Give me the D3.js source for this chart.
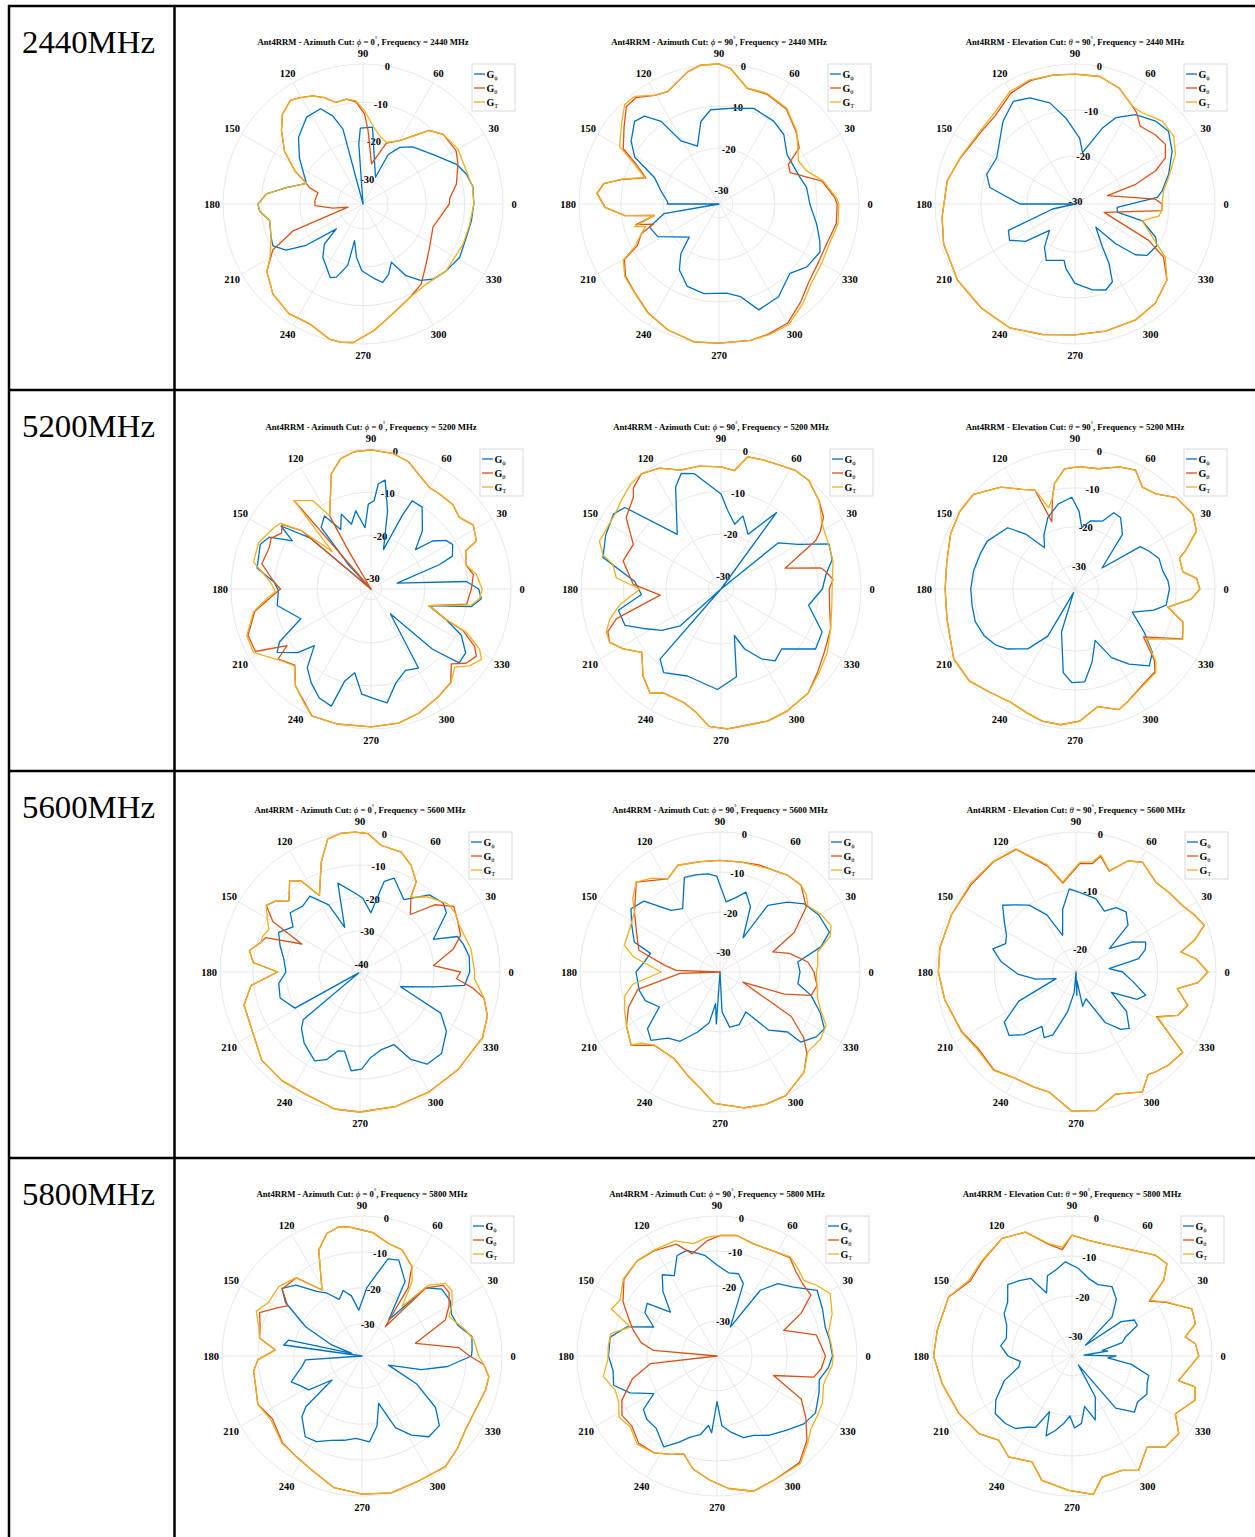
<!DOCTYPE html>
<html>
<head>
<meta charset="utf-8">
<script src="https://cdn.jsdelivr.net/npm/d3@7"></script>
<style>
  body { margin: 0; background: #fff; }
  svg text { font-family: "Liberation Serif", "Times New Roman", serif; }
</style>
</head>
<body>
<svg id="chart" width="1255" height="1537"></svg>
<script>
// ---------------------------------------------------------------------------
// Measured gain patterns of antenna Ant4RRM, values in dBi as [angle deg, gain]
// ---------------------------------------------------------------------------
const frequencies = ["2440MHz", "5200MHz", "5600MHz", "5800MHz"];
const freqMHz = ["2440", "5200", "5600", "5800"];
const angleTicks = [0, 30, 60, 90, 120, 150, 180, 210, 240, 270, 300, 330];
const radialTicks = [0, -10, -20, -30, -40];
const seriesNames = ["G", "G", "G"];
const seriesSubs = ["\u03D5", "\u03B8", "T"];

// 2440 MHz, azimuth cut phi = 0
const gPhi_2440_az0 = [[0,-7.6],[9,-7.5],[16,-8.4],[23,-10],[35,-14.1],[49,-16.8],[57,-18.9],[63,-22],[65,-28.8],[83,-16.3],[92,-16.7],[94,-20.9],[98,-36.5],[105,-16.3],[109,-12.2],[114,-9.3],[123,-9.5],[134,-12.3],[144,-16],[160,-20.8],[168,-16.1],[174,-11.2],[180,-9.1],[184,-9.5],[190,-11.8],[200,-11],[205,-10.6],[211,-13.1],[216,-18.2],[223,-27],[226,-22],[233,-19.1],[246,-15.5],[250,-16.2],[256,-20],[257,-26.7],[263,-22.5],[269,-19.1],[278,-17],[284,-15.4],[290,-17],[296,-19.6],[301,-14.7],[307,-11.6],[313,-9.7],[321,-8.7],[331,-7.7],[342,-8.2],[351,-7.9]];
const gTheta_2440_az0 = [[0,-14],[4,-13.8],[12,-11.6],[23,-9.6],[30,-8.5],[41,-8.8],[48,-10.7],[60,-17.4],[69,-19.5],[78,-25.8],[86,-17.4],[89,-13],[94,-9.8],[99,-8.8],[105,-9.1],[110,-7],[115,-5.4],[121,-4.2],[125,-3.5],[132,-5.1],[138,-7.9],[146,-11.8],[154,-16.7],[160,-20.8],[163,-21.9],[166,-24.4],[176,-23.9],[182,-24],[188,-28.6],[192,-32.5],[201,-17],[207,-10.1],[215,-5.9],[225,-3.3],[236,-2],[246,-2.3],[256,-0.2],[261,0],[266,-0.3],[275,-3.4],[285,-6.8],[297,-9.3],[306,-10.7],[316,-13.7],[327,-15.8],[342,-17.3],[350,-16.2]];
const gT_2440_az0 = [[0,-7.6],[9,-7.6],[18,-8.2],[30,-7.9],[41,-8.8],[48,-10.7],[60,-17.4],[69,-19.3],[75,-18.5],[82,-16.3],[89,-12.2],[94,-9.5],[99,-8.8],[105,-9.1],[110,-7],[115,-5.4],[121,-4.2],[125,-3.5],[132,-5.1],[138,-7.9],[146,-11.8],[154,-16.7],[160,-20.8],[168,-16.1],[174,-11.2],[180,-9.1],[184,-9.5],[190,-11.8],[200,-11],[210,-8.5],[215,-5.9],[225,-3.3],[236,-2],[246,-2.3],[256,-0.2],[261,0],[266,-0.3],[275,-3.4],[285,-6.8],[297,-9.3],[308,-9.9],[321,-8.7],[338,-8.4],[349,-8.2]];

// 2440 MHz, azimuth cut phi = 90
const gPhi_2440_az90 = [[0,-11.7],[10.7,-12.1],[18,-13],[36,-13.3],[47,-10.7],[56.6,-9.7],[70,-9.1],[81,-10.2],[95,-10.8],[102.4,-13.2],[110.4,-18.6],[121,-15.8],[125,-9.3],[130.3,-5.9],[135.6,-5.2],[144.4,-7.6],[151,-10.4],[157.7,-16.7],[167,-19.1],[178,-21.1],[180,-21],[182,-33.3],[190,-20],[198.4,-15.9],[208,-16.8],[228,-22.7],[232.5,-18.4],[239,-15],[249,-12.3],[260.5,-11.7],[275,-12],[283,-10.7],[290.6,-6.4],[302.7,-7.1],[315.7,-9.7],[324.4,-7.6],[334.6,-6.7],[340,-7.8],[348.5,-9.6]];
const gTheta_2440_az90 = [[0,-5.2],[3,-5.7],[12.5,-8.2],[23.8,-14.8],[29.7,-14.3],[35,-10],[43,-8.2],[54.7,-5.6],[66.6,-4.8],[76.3,-5],[85,-1],[90,0],[97.5,0],[103.4,-1],[114.5,-3.9],[120.6,-3.3],[128,-1.2],[133.5,-1.3],[140.9,-4.2],[150,-7],[154.8,-11.8],[160.4,-14.8],[165.7,-9.6],[170,-5.5],[175,-4.2],[181.7,-6.2],[187,-10.8],[190,-17.7],[194,-13],[197,-17],[201,-13.5],[207,-11.5],[210.4,-7.2],[217.7,-5.2],[226.6,-4.2],[237,-2.4],[247.8,-1],[259.8,0],[270,-0.2],[283,0],[291,-0.2],[300,-0.6],[310,-3],[319,-5],[330,-5.9],[340,-6],[350.5,-5]];
const gT_2440_az90 = [[0,-4.8],[3,-5.3],[12.5,-7.9],[20.7,-11],[28.4,-11.8],[43,-8],[54.7,-5.4],[66.6,-4.6],[76.3,-4.9],[85,-1],[90,0],[97.5,0],[103.4,-1],[114.5,-3.9],[120.6,-3.2],[128,-0.8],[133.5,-0.7],[140.9,-3.4],[150,-6],[154.8,-11.1],[160.4,-14.5],[165.7,-9.4],[170,-5.4],[175,-4.1],[181.7,-6.1],[187,-10.7],[190,-17.7],[195,-12.5],[197,-15],[201,-13.5],[207,-10.8],[210.4,-6.9],[217.7,-5],[226.6,-4.1],[237,-2.3],[247.8,-1],[259.8,0],[270,-0.2],[283,0],[291,0],[300,-0.2],[310,-2.3],[319,-4.3],[330,-5.1],[340,-5.4],[350.5,-4.6]];

// 2440 MHz, elevation cut theta = 90
const gPhi_2440_el90 = [[4.6,-12.5],[8.6,-11.3],[17.6,-9.1],[28.6,-6.4],[37.9,-4.7],[45.8,-5.3],[55.9,-7],[64.7,-9.7],[70,-12.8],[81.6,-19.2],[86,-16.1],[96,-11.7],[104,-7.8],[113,-5.4],[121,-4.4],[131,-6.6],[149.4,-10.7],[161.4,-10.2],[169,-11.6],[180,-18.5],[182,-30.5],[192.6,-25.5],[201.6,-14.9],[209,-14.2],[217,-17],[226,-22.5],[234.7,-19],[243,-16.7],[259,-18],[262,-16.3],[270,-13.2],[281.5,-11.4],[289.7,-10.6],[295.7,-11.7],[299.8,-15.6],[302.6,-19.4],[312,-23.7],[315.7,-18.1],[320,-13.3],[324.6,-11.2],[333,-10.5],[337.6,-11.5],[346,-15.4],[349,-21.1],[355.5,-21.3]];
const gTheta_2440_el90 = [[0,-11.5],[3.5,-13],[14.3,-23.2],[18,-16.6],[22.4,-11.5],[27,-8.4],[33.4,-6.9],[40.8,-7.4],[50,-8.4],[56,-6.5],[59.6,-5.8],[69,-3.5],[79,-2.2],[90,-2.2],[99.7,-2],[110,-1.9],[120,-2.6],[132.5,-4.6],[142.5,-4.7],[158,-3.6],[169.7,-2.2],[185.7,-1.4],[196.8,-0.6],[212.8,0],[228,0],[242.3,0],[256,-1.2],[270,-2],[283.6,-2],[297.6,-2],[309,-2.7],[320.4,-4.5],[329,-8],[333.7,-12.6],[344,-23.9],[355.7,-11.5]];
const gT_2440_el90 = [[0,-11.5],[8.5,-11],[15.8,-9.3],[26.3,-6.1],[34.5,-4.4],[43.5,-4.3],[53.6,-5.8],[59.6,-5.8],[69,-3.5],[79,-2.2],[90,-2.2],[99.7,-2],[110,-1.7],[120,-2.2],[132.5,-4.1],[142.5,-4.4],[158,-3.5],[169.7,-2.2],[185.7,-1.4],[196.8,-0.6],[212.8,0],[228,0],[242.3,0],[256,-1.2],[270,-2],[283.6,-2],[297.6,-2],[309,-2.7],[320.4,-4.5],[329.6,-7.7],[334,-10.7],[346,-15.4],[352,-12],[356,-11.5]];

// 5200 MHz, azimuth cut phi = 0
const gPhi_5200_az0 = [[0,-7.5],[4.5,-10.3],[12.5,-26.3],[19.6,-15.7],[22,-12.1],[28.6,-10.9],[33,-11.8],[38,-14.4],[41.5,-18.7],[48.5,-14.5],[58,-10.1],[65,-9.9],[67,-14],[72.4,-22.9],[78,-14],[82.6,-7],[86,-8],[88,-12],[91.8,-12.8],[95.6,-18.2],[101,-14],[106.8,-16.8],[111.6,-13.8],[117,-17],[122.5,-12.4],[129,-14.1],[133,-25],[136,-32.5],[140,-14],[145,-7],[148.6,-11.1],[153,-6],[158,-4.8],[169.6,-5.6],[176,-10],[181,-11],[190,-10.4],[203,-14.8],[210,-8],[214,-6.2],[221,-10],[225,-13.9],[231,-9],[237.4,-6.7],[244.6,-4.5],[251.3,-3.8],[254,-10.2],[259,-12.7],[265,-8],[272,-7],[278,-5.8],[285,-10],[293,-12],[301,-11.1],[308,-25.2],[315.6,-12.5],[320,-5.8],[326,-6],[333,-9],[338,-13.8],[344,-18.5],[350,-8.9],[355,-6.8]];
const gTheta_5200_az0 = [[0,-9.2],[8,-8.5],[14,-9.7],[22,-8.8],[24.5,-5.6],[32,-4.5],[39,-6.1],[46,-5.2],[54,-5.3],[60,-5.3],[67,-3.8],[73.5,-1.7],[81,-0.6],[90,-0.2],[97,-0.4],[103,-1.4],[109,-4.2],[119.5,-13],[120.5,-22.5],[125,-32.5],[131,-5.3],[136,-32.5],[140,-11.4],[144,-7],[148,-8],[153,-6.5],[158,-7],[167,-6.5],[176,-10],[180,-11.5],[185,-9],[191,-5],[200.6,-2],[208.4,-2],[214,-9],[217,-5.5],[225,-7.5],[232,-4],[239.6,-2],[245,0],[256,-0.2],[270,-0.5],[281.6,-0.7],[291,-1.6],[302,-3],[310.5,-4],[317,-7],[322,-4.5],[327.5,-3.5],[331,-5],[335.6,-9],[338,-13.8],[344,-18.5],[351,-10]];
const gT_5200_az0 = [[0,-6.7],[8,-7.8],[14,-9.7],[22,-8.8],[24.5,-5.6],[32,-4.5],[39,-6.1],[46,-5.2],[54,-5.3],[60,-5.3],[67,-3.8],[73.5,-1.7],[81,-0.6],[90,-0.2],[97,-0.4],[103,-1.4],[109,-4.2],[119.5,-13],[123.4,-7.9],[131,-5.3],[136,-20],[140,-11.4],[144,-6.5],[148,-5.8],[157.6,-4.3],[167,-4.5],[176,-9.1],[181.6,-10.3],[185,-8.3],[191,-4.7],[200.6,-1.7],[208.4,-1.5],[217,-5.3],[225,-7.3],[232,-4],[239.6,-1.8],[245,0],[256,-0.2],[270,-0.5],[281.6,-0.7],[291,-1.6],[302,-3],[310.5,-3.9],[317,-5.9],[322,-3.5],[327.5,-2.1],[331,-3.7],[335.6,-8.2],[338,-13.8],[344,-18.5],[351,-8.9],[355,-7.2]];

// 5200 MHz, azimuth cut phi = 90
const gPhi_5200_az90 = [[0,-9.1],[8,-8],[14.8,-5.9],[22.7,-5.4],[30,-12],[38.9,-15.7],[46,-33],[54,-10.7],[63.7,-18.6],[73.3,-15],[78,-17.4],[85,-14.5],[90,-10.6],[103,-5.1],[109,-4.2],[114,-6.7],[128.7,-16.5],[139.7,-3.3],[145,-2.1],[155,-3],[165,-4.2],[175,-12.6],[184,-14.2],[191.7,-8.3],[200.8,-8.8],[207,-12.5],[215,-16],[222,-20],[226,-33],[229,-11.1],[235.6,-9.1],[248.8,-11],[268,-9.3],[280,-12],[286,-21.6],[291.5,-17.8],[300,-14],[307,-11.8],[315.3,-12.9],[327.6,-6.6],[337,-7.1],[349.5,-12]];
const gTheta_5200_az90 = [[0,-7.5],[5,-6.5],[9.5,-8],[12,-9],[18,-17.1],[27,-8],[30,-6],[35,-3.5],[42,-1.9],[51,-0.1],[58,0],[66.7,-0.8],[72,-1],[78.5,-1.2],[83.5,-4.9],[90,-4.2],[100,-3.6],[108.8,-3.4],[117,-1],[124.7,0],[131,-1.5],[133.7,-3.1],[143,-5],[153,-9.8],[164,-9],[177,-12.3],[185.7,-18.6],[195.8,-7.4],[200.6,-4.5],[205.6,-3.9],[211.5,-6],[218.7,-9.1],[228,-5.5],[235.7,-3.3],[241,-5],[252,-4.8],[259,-3.2],[265,-0.5],[272.7,0],[289.4,0],[298.5,-0.3],[310,-1],[319.5,-3],[329,-4.5],[340,-5.5],[350,-7]];
const gT_5200_az90 = [[0,-6.8],[13.9,-5.8],[20.7,-5.6],[32.6,-4.7],[42,-1.9],[51,-0.1],[58,0],[66.7,-0.8],[72,-1],[78.5,-1.2],[83.5,-4.9],[90,-4.2],[100,-3.6],[108.8,-3.4],[117,-1],[124.7,0],[131,-0.4],[138,-1.5],[144.8,-2.4],[158.5,-2.2],[163.8,-4],[167.3,-6.9],[174,-8.2],[180,-13.9],[189,-8.8],[195,-5.9],[200.6,-4.1],[205.6,-3.9],[211.5,-6],[218.7,-9.1],[228,-5.5],[235.7,-3.3],[241,-5],[252,-4.8],[259,-3.2],[265,-0.5],[272.7,0],[289.4,0],[298.5,-0.3],[310,-1],[319.5,-2.6],[329,-3.8],[340,-5.5],[350,-6.5]];

// 5200 MHz, elevation cut theta = 90
const gPhi_5200_el90 = [[0,-11.7],[5,-12],[12,-13],[20,-13],[27,-14.6],[33,-16],[37.8,-27.2],[49,-17.4],[57.5,-14.2],[63,-14],[68,-17.2],[77,-18],[83.7,-20.1],[87,-16],[92,-12.4],[101,-13.7],[110.7,-16.3],[120,-20],[126.4,-22.8],[132,-17],[137.7,-12.6],[151.4,-10.3],[160,-10],[170,-9.5],[180,-9.2],[189,-9.2],[198,-9],[207,-9.7],[215,-11],[221.7,-12.8],[231.8,-16.4],[240,-22],[248,-35],[252.6,-24.4],[262,-14.3],[268,-11.9],[276,-12],[283,-16.6],[291.4,-21.8],[298,-16],[305.7,-12.2],[314,-8.5],[320.7,-10.3],[328,-15],[338,-20.1],[345,-15],[350,-12.2]];
const gTheta_5200_el90 = [[0,-3.9],[5,-4.6],[9,-7.9],[16.5,-8],[19,-6],[25.5,-1.4],[32.4,-0.1],[42,-0.9],[49.6,-3.9],[56.5,-4.6],[63,-1.7],[70,-2.6],[79,-4.5],[88,-4.5],[95,-5],[101,-8.4],[104,-12],[109,-17.7],[112,-8.6],[118,-7],[126,-3.6],[137,-0.3],[146,-0.3],[156,-1],[168,-2.3],[180,-2.6],[193,-2.2],[210,0],[221,0],[230,-1.5],[240,-2.5],[249,-1.8],[256,-1],[264,-0.9],[272,-2],[281,-5.2],[290,-3],[295,-4],[305,-5.8],[314,-6.4],[318,-8.5],[325,-14.5],[335,-5.6],[338,-6.1],[343,-7],[349,-11.7],[355,-6]];
const gT_5200_el90 = [[0,-3.9],[5,-4.6],[9,-7.9],[16.5,-8],[19,-6],[25.5,-1.4],[32.4,-0.1],[42,-0.9],[49.6,-3.9],[56.5,-4.6],[63,-1.7],[70,-2.6],[79,-4.5],[88,-4.5],[95,-5],[101,-8.4],[104,-12],[108,-14],[112,-8.6],[118,-7],[126,-3.6],[137,-0.3],[146,-0.3],[156,-1],[168,-2.3],[180,-2.6],[193,-2.2],[210,0],[221,0],[230,-1.5],[240,-2.5],[249,-1.8],[256,-1],[264,-0.9],[272,-2],[281,-5.2],[290,-3],[295,-4],[305,-5.6],[314,-6.1],[318,-8],[325,-13.7],[335,-5.4],[338,-6.1],[343,-7],[349,-11.7],[355,-6]];

// 5600 MHz, azimuth cut phi = 0
const gPhi_5600_az0 = [[0,-9.2],[8,-9],[15,-10],[20,-11],[24,-18.1],[34.4,-10.7],[39.7,-9.7],[48,-11],[58.8,-16.8],[70,-12.2],[75,-14],[79.6,-24.2],[88,-20],[94,-18.4],[104,-14.7],[109,-28.2],[115,-20],[123.5,-14.9],[131,-16],[139.7,-14.7],[146,-18],[154,-15],[162,-17],[170,-19],[180,-20],[188,-17.6],[198,-17],[209,-19.9],[213,-42],[220,-20],[224,-17.8],[232,-15],[243,-12.2],[249,-14],[254.4,-17.6],[259,-18],[264.9,-12.4],[271,-13],[277,-16.3],[285,-18],[295,-18.2],[300,-12],[306,-7.9],[315,-7.5],[325.6,-10.7],[333,-15],[340,-29.4],[348.6,-19.5],[352.7,-10.5]];
const gTheta_5600_az0 = [[0,-12],[5,-20.1],[13.9,-13.3],[20,-10],[28,-9],[35,-7.8],[42,-12],[48.8,-19.3],[55.8,-15],[58,-10.3],[64.4,-6.6],[71,-4],[80.6,-3.5],[86.8,-0.4],[92,0],[97.7,0],[103.6,-0.9],[109.5,-7.2],[117.9,-16.2],[122.8,-9.6],[127.6,-7.5],[135,-12],[140,-9],[144.6,-7.6],[150,-12],[154.3,-22.9],[160,-12],[163,-11.2],[169,-8.3],[175,-10],[180,-17.5],[187,-9.2],[195.9,-5.9],[208.8,-5.2],[222,-2.4],[234.3,-1.9],[245.7,-1.9],[259.5,-0.2],[270,0],[285,-0.3],[300,-0.5],[315,-0.5],[331.8,-0.3],[341,-1.6],[348,-4],[352,-8],[356,-13.1]];
const gT_5600_az0 = [[0,-7.7],[12,-8.1],[25,-9.2],[32,-8.5],[38,-8.8],[48,-11.8],[55.8,-15],[58,-10.3],[64.4,-6.6],[71,-4],[80.6,-3.5],[86.8,-0.4],[92,0],[97.7,0],[103.6,-0.9],[109.5,-7.2],[117.9,-16.2],[122.8,-9.6],[127.6,-7.5],[135,-12],[140,-9],[144.6,-7.6],[150,-10],[155,-12],[160,-11],[163,-11.2],[169,-8.3],[175,-10],[180,-17.5],[187,-9.2],[195.9,-5.9],[208.8,-5.2],[222,-2.4],[234.3,-1.9],[245.7,-1.9],[259.5,-0.2],[270,0],[285,-0.3],[300,-0.5],[315,-0.5],[331.8,-0.3],[341,-1.6],[348,-4],[356.7,-7.7]];

// 5600 MHz, azimuth cut phi = 90
const gPhi_5600_az90 = [[0,-15],[7.3,-15.4],[14,-9],[20,-5.9],[30,-6.5],[39,-7.9],[46,-10.7],[54.4,-14.5],[56,-24.7],[65,-17],[72,-14],[78,-16],[85,-17.4],[92,-11],[97,-10.3],[104,-10],[110.6,-9.7],[120.5,-16.6],[128.5,-15.3],[137,-9],[144.6,-7.7],[152,-10],[160.7,-12.3],[165,-17],[172,-16],[180,-14],[192.8,-14.3],[201,-15],[210,-17.5],[218,-12],[224.7,-10.7],[232,-14],[240,-15],[249.6,-19],[258,-22],[262,-27],[266,-22],[270,-35],[273,-25],[280,-21],[290,-21],[303,-23.1],[310,-16],[318.4,-12.4],[319,-8.3],[326,-6],[331.5,-5.3],[338,-8],[345.6,-11.5],[351.5,-15.3]];
const gTheta_5600_az90 = [[0,-11.5],[6.5,-12.9],[15,-17],[20.8,-20.9],[28,-14],[37,-8],[47,-5.3],[55,-5.5],[70,-6.5],[79,-7],[90,-7.1],[100,-7],[111.6,-6.3],[119.3,-8.3],[133,-4.3],[145,-8.9],[155,-12],[165,-14],[173,-21],[178,-24],[180,-35],[182,-25],[192,-14],[201,-10.5],[210,-8],[219.5,-6.2],[228,-10.4],[242,-10.5],[252.6,-7.9],[260.7,-5.4],[267.5,-2.1],[280,-0.5],[289,0],[298,0],[310,-2.3],[317,-5.3],[322,-8.5],[328,-14],[336,-28.8],[341,-18],[345.6,-11.5],[352,-10.5]];
const gT_5600_az90 = [[0,-10.9],[4,-10.5],[11.6,-10.1],[18,-6],[22.8,-4.9],[30,-6],[37,-7.5],[42,-6],[47,-5.3],[55,-5.5],[65,-6.5],[79,-7],[90,-7.1],[100,-7],[111.6,-6.3],[119.3,-8.3],[126,-6],[133,-4.3],[140,-6.5],[145,-8.9],[155,-10],[164.4,-10.2],[170,-13],[180,-20.3],[188,-13],[194,-10.5],[201,-9.4],[210,-8],[219.5,-6.2],[222,-8.5],[228,-10.4],[242.2,-10.5],[252.6,-7.9],[260.7,-5.4],[267.5,-2.1],[280,-0.5],[289.4,0],[298,0],[310,-2.3],[317.6,-5.3],[326.6,-4.8],[333.3,-5.3],[338.4,-7.8],[344.7,-9.7],[352,-10.5]];

// 5600 MHz, elevation cut theta = 90
const gPhi_5600_el90 = [[0,-16],[5.7,-18.3],[12,-13],[18,-11.5],[23.2,-11],[28,-13],[35,-17],[42,-12],[50.2,-10.6],[58,-11],[65,-12.5],[74.7,-11],[85,-10.5],[94.6,-9.7],[102,-13],[110,-17.3],[117,-13],[125,-10],[132,-8.5],[137.7,-7],[145,-9],[152,-10.5],[158,-11],[164.4,-9.2],[172,-11],[182,-14],[190,-17],[198.4,-20.4],[207,-13],[215,-9],[223.5,-8.2],[230,-10],[238,-13],[244,-11.5],[249.8,-12.5],[258,-17],[265,-20.5],[268,-24],[272,-20],[276,-22.5],[281,-18],[290.6,-19.1],[300,-14],[308,-11.5],[313.3,-10.7],[322,-13],[330,-17],[336,-12.5],[341.6,-11.4],[350,-14]];
const gTheta_5600_el90 = [[0,-1.4],[6.3,-3.3],[10.8,-5.7],[15,-3],[20,-0.6],[26,-1.5],[32,-2.5],[40,-3],[48.4,-3.4],[58.8,-2],[65,-3],[71.8,-5.8],[78,-3.7],[81.4,-5.2],[88,-5.4],[98.4,-8.6],[105,-5.2],[116,-0.6],[127,-0.4],[140,-0.6],[155,-0.5],[170,-0.3],[180,-0.4],[192,-1],[207.5,-1.9],[218,-2.7],[230,-2.1],[240,-3],[250,-3],[257.5,-2.9],[268,-0.2],[278,0],[288,-2],[299,-0.5],[305,-2.5],[308.7,-2.1],[315,-1.5],[323,-1.1],[331,-8.2],[337,-5],[343.4,-4],[350.7,-6.4],[355,-3]];
const gT_5600_el90 = [[0,-1.4],[6.3,-3.3],[10.8,-5.7],[15,-3],[20,-0.6],[26,-1.5],[32,-2.5],[40,-3],[48.4,-3.4],[58.8,-2],[65,-3],[71.8,-5.7],[78,-3.5],[81.4,-4.9],[88,-5.2],[98.4,-8.4],[105,-5],[116,-0.5],[127,-0.3],[140,-0.4],[155,-0.5],[170,-0.3],[180,-0.4],[192,-1],[207.5,-1.8],[218,-2.5],[230,-2],[240,-3],[250,-3],[257.5,-2.9],[268,-0.2],[278,0],[288,-2],[299,-0.5],[305,-2.5],[308.7,-2.1],[315,-1.5],[323,-1.1],[331,-8],[337,-5],[343.4,-4],[350.7,-6.4],[355,-3]];

// 5800 MHz, azimuth cut phi = 0
const gPhi_5800_az0 = [[0,-8.5],[3,-8.3],[10,-7.9],[18,-11],[25,-11.5],[32,-10],[40,-10],[47,-13],[53.5,-26.5],[60,-15],[69,-10.4],[75,-11],[80,-16],[86,-20],[94,-26.2],[100,-22],[106,-20],[112,-22],[119,-19],[125,-17],[133,-12],[139.8,-9.8],[145,-13],[152.6,-21.3],[160,-30],[165,-36.1],[167.7,-18.1],[172,-17],[177,-39],[184,-23.2],[190,-22],[200,-18],[206,-20],[212.5,-21.4],[218.7,-28.3],[222,-18],[225.3,-15.2],[234.9,-11.5],[242,-12],[250,-14],[258,-15],[266,-16],[275,-15],[282,-19],[289.4,-25],[295,-17],[302,-13],[309.6,-9.8],[318,-10],[325,-14],[333,-22],[341,-31.2],[347,-22],[353,-15]];
const gTheta_5800_az0 = [[0,-9],[5,-12],[13.4,-23.7],[23.4,-13.7],[30,-11],[36,-9],[41,-9],[46.8,-13],[51.5,-28.6],[56,-16],[60.8,-10.5],[69.3,-7.4],[76.7,-6.8],[85,-4.5],[90,-3.9],[95,-3],[100.2,-2.4],[106,-3.5],[112.2,-7.1],[121.2,-17.5],[130,-10.5],[140,-10],[146,-14],[150,-12],[157,-8],[164.2,-9.5],[170,-10],[176,-14.8],[182,-10],[188,-8.5],[194.4,-8.3],[205,-7],[215,-8.5],[227.5,-6.2],[237,-5.5],[246,-4.3],[258,-1.5],[270,-0.5],[282,0],[295,-0.8],[307,-0.4],[316,-2],[324.4,-3.6],[334,-4],[344.6,-3.3],[350.7,-3.2],[356,-5]];
const gT_5800_az0 = [[0,-6.5],[8,-7.5],[14.1,-9.3],[24.4,-12.4],[30,-10],[36,-8],[41,-8.2],[46.8,-11.9],[51,-21.3],[56,-14],[60.8,-10.5],[69.3,-7.4],[76.7,-6.8],[85,-4.5],[90,-3.9],[95,-3],[100.2,-2.4],[106,-3.5],[112.2,-7.1],[121.2,-17.5],[130,-10.5],[140.2,-8.8],[150,-9],[157,-7],[164.2,-9.1],[170,-10],[176,-14.8],[182,-10],[188,-8.5],[194.4,-8.3],[205,-7],[215,-8],[227.5,-6],[237,-5.5],[246,-4.3],[258,-1.5],[270,-0.5],[282,0],[295,-0.8],[307,-0.4],[316,-2],[324.4,-3.6],[334,-4],[344.6,-3.3],[350.7,-3.2],[356,-5]];

// 5800 MHz, azimuth cut phi = 90
const gPhi_5800_az90 = [[0,-7],[8,-7.5],[15,-8],[24,-7],[33.3,-5.8],[42,-10.6],[50,-13],[56.6,-17.5],[65.3,-30.9],[70,-18],[75.3,-15.7],[82,-16],[90,-14],[97,-11],[105.9,-8.6],[111.7,-9.1],[118,-14],[124,-12],[130,-16],[136.7,-21.7],[143,-15],[149,-16],[155.4,-20.1],[162,-13],[170,-9],[180,-9],[188,-10],[195.8,-9.3],[203,-13],[210.7,-19],[216,-14],[222,-13],[230,-13],[239.6,-9.9],[246,-13],[251.8,-15.6],[258,-17],[263,-20],[266,-18],[270,-27],[274,-20],[280,-18],[288,-15.5],[294.8,-15],[303,-13],[313.3,-10.9],[322,-8.5],[330,-7.5],[340,-9],[347,-10],[354,-8]];
const gTheta_5800_az90 = [[0,-9],[5,-10],[12,-11],[21,-19.6],[27,-13],[33,-8],[40,-8],[47,-7],[53.5,-5],[62,-6],[71.9,-6.3],[80.6,-5.1],[88.4,-5.5],[95,-7],[103.7,-9.9],[110,-6],[121,-5],[130,-4.5],[140.4,-5.5],[150,-9],[158,-13],[163,-15],[170,-18],[175,-21.8],[180,-40],[186.5,-20.9],[195,-15],[205,-10],[212,-8],[219.3,-8.5],[228,-6.5],[237,-7],[245,-9],[251.2,-10.5],[258,-7],[266.9,-4.4],[275,-2],[285,0],[295,-1],[307.7,-1.5],[316.9,-4.8],[325,-9],[333,-13],[341,-22.9],[347.7,-11.7],[353,-10]];
const gT_5800_az90 = [[0,-6.8],[6,-7.2],[11.8,-7.5],[20,-5],[28.8,-3.1],[35,-5],[41.1,-7.1],[47,-6],[53.5,-4.8],[62,-6],[71.9,-6.3],[80.6,-5.1],[88.4,-5.5],[95,-6],[101.7,-7.2],[110,-5],[121,-4.8],[130,-4.5],[140.4,-5.3],[150,-8],[156,-7],[161.5,-13.9],[168,-9],[175,-8.8],[182,-8.8],[190,-7],[198.7,-9.3],[205,-9],[212,-7],[219.3,-8],[228,-6],[237,-7],[245,-9],[251.2,-10.5],[258,-7],[266.9,-4.4],[275,-2],[285,0],[295,-1],[307.7,-1.1],[316,-4],[322,-6],[328.6,-6.6],[336,-7],[344.8,-8.5],[350,-8],[355,-7]];

// 5800 MHz, elevation cut theta = 90
const gPhi_5800_el90 = [[0,-24],[4,-32],[8,-26],[10.7,-27.3],[15,-22],[19.6,-20.8],[25,-17],[30,-17],[35,-20],[38.7,-30.7],[44.3,-21],[52,-17],[60,-15],[70,-16],[77.8,-15.2],[86,-13],[94,-11.4],[100,-13],[107,-14],[112,-18],[118,-13],[125,-12],[132,-11],[140,-14],[148,-15],[155,-17],[165,-18],[172,-17],[180,-19],[186,-22],[191.7,-21.4],[200,-17],[210,-13],[217,-11],[225.4,-11.3],[232,-12],[238,-14],[243,-15],[248,-20],[252,-14],[257.4,-15.9],[263,-18],[268,-20],[272,-17],[278,-18],[284,-22],[290,-18],[299.6,-23.2],[305.5,-32.2],[310,-18],[318,-14],[325,-15],[333,-14],[340,-15],[345.8,-15.2],[352,-20],[357,-26]];
const gTheta_5800_el90 = [[0,-3.3],[5.7,-4],[9.5,-6.3],[14.7,-3.1],[21.5,-2.8],[29.6,-7.9],[35.4,-11.3],[39.5,-5.3],[44.2,-1.9],[50.4,-2.3],[63.6,-5],[75,-5.9],[81.8,-5.8],[90,-4.8],[95.2,-8.3],[101.7,-6.5],[110.6,-1.9],[120.8,-0.8],[133.3,-2.4],[143.8,-3.4],[154.4,-0.8],[169.2,-0.7],[180,-0.4],[192,-1.8],[207,-3.3],[219.8,-4.7],[229,-7.1],[237.9,-5.2],[249.3,-6.7],[256.4,-3],[268.6,-1.4],[278.7,0],[284,-3.8],[293.6,-3.8],[300.2,-1.9],[309.5,-5.5],[315.7,-2.4],[324,-2],[330.8,-5.4],[340.2,-2.3],[345.9,-3.3],[347,-7.7],[352.9,-6]];
const gT_5800_el90 = [[0,-3.3],[5.7,-4],[9.5,-6.3],[14.7,-3.1],[21.5,-2.8],[29.6,-7.7],[35.4,-11],[39.5,-5.3],[44.2,-1.9],[50.4,-2.3],[63.6,-5],[75,-5.9],[81.8,-5.8],[90,-4.8],[95.2,-7.7],[101.7,-6.3],[110.6,-1.9],[120.8,-0.8],[133.3,-2.2],[143.8,-3],[154.4,-0.8],[169.2,-0.7],[180,-0.4],[192,-1.8],[207,-3.3],[219.8,-4.7],[229,-7.1],[237.9,-5.2],[249.3,-6.7],[256.4,-3],[268.6,-1.4],[278.7,0],[284,-3.8],[293.6,-3.8],[300.2,-1.9],[309.5,-5.5],[315.7,-2.4],[324,-2],[330.8,-5.4],[340.2,-2.3],[345.9,-3.3],[347,-7.7],[352.9,-6]];

// lower end of the radial (dB) axis for each panel, row by row
const radialMin = [
  [-36.5, -33.3, -30.5],
  [-32.5, -33, -36],
  [-42.5, -35, -24],
  [-39, -40, -35]
];

// ---------------------------------------------------------------------------
const colors = ["#0072BD", "#D95319", "#EDB120"];
const panelData = [
  [[gPhi_2440_az0, gTheta_2440_az0, gT_2440_az0], [gPhi_2440_az90, gTheta_2440_az90, gT_2440_az90], [gPhi_2440_el90, gTheta_2440_el90, gT_2440_el90]],
  [[gPhi_5200_az0, gTheta_5200_az0, gT_5200_az0], [gPhi_5200_az90, gTheta_5200_az90, gT_5200_az90], [gPhi_5200_el90, gTheta_5200_el90, gT_5200_el90]],
  [[gPhi_5600_az0, gTheta_5600_az0, gT_5600_az0], [gPhi_5600_az90, gTheta_5600_az90, gT_5600_az90], [gPhi_5600_el90, gTheta_5600_el90, gT_5600_el90]],
  [[gPhi_5800_az0, gTheta_5800_az0, gT_5800_az0], [gPhi_5800_az90, gTheta_5800_az90, gT_5800_az90], [gPhi_5800_el90, gTheta_5800_el90, gT_5800_el90]]
];

// layout of the table and the polar panels
const rowTops = [6, 390, 771, 1158];
const panelCentres = [
  [[363, 204], [719, 204], [1075, 204]],
  [[371, 589], [721, 589], [1075, 589]],
  [[360, 972], [720, 972], [1076, 972]],
  [[362, 1356], [717, 1356], [1072, 1356]]
];
const panelRadius = 140;

const svg = d3.select("#chart");

// ---- table grid -----------------------------------------------------------
const tbl = svg.append("g").attr("stroke", "#000").attr("stroke-width", 2.5);
rowTops.forEach(y => tbl.append("line").attr("x1", 8).attr("x2", 1255).attr("y1", y).attr("y2", y));
tbl.append("line").attr("x1", 9).attr("x2", 9).attr("y1", 5).attr("y2", 1537);
tbl.append("line").attr("x1", 174.5).attr("x2", 174.5).attr("y1", 5).attr("y2", 1537);

frequencies.forEach((f, i) => {
  svg.append("text")
    .attr("x", 22).attr("y", rowTops[i] + 47)
    .attr("font-size", 32)
    .attr("textLength", 133).attr("lengthAdjust", "spacingAndGlyphs")
    .attr("fill", "#000")
    .text(f);
});

// ---- polar panels -----------------------------------------------------------
function cutTitle(col, freq) {
  if (col === 2) return { cut: "Ant4RRM - Elevation Cut: ", sym: "\u03B8", val: " = 90", freq };
  return { cut: "Ant4RRM - Azimuth Cut: ", sym: "\u03D5", val: col === 0 ? " = 0" : " = 90", freq };
}

function drawPanel(row, col) {
  const [cx, cy] = panelCentres[row][col];
  const R = panelRadius;
  const rMin = radialMin[row][col];
  const rScale = d3.scaleLinear().domain([rMin, 0]).range([0, R]).clamp(true);
  const toRad = a => a * Math.PI / 180;
  const g = svg.append("g").attr("transform", `translate(${cx},${cy})`);

  // grid rings and spokes
  const grid = g.append("g").attr("fill", "none").attr("stroke", "#e2e2e2").attr("stroke-width", 0.8);
  radialTicks.filter(v => v > rMin).forEach(v => grid.append("circle").attr("r", rScale(v)));
  angleTicks.forEach(a => grid.append("line")
    .attr("x1", 0).attr("y1", 0)
    .attr("x2", R * Math.cos(toRad(a))).attr("y2", -R * Math.sin(toRad(a))));

  // angular tick labels
  angleTicks.forEach(a => g.append("text")
    .attr("x", (R + 11) * Math.cos(toRad(a)))
    .attr("y", -(R + 11) * Math.sin(toRad(a)))
    .attr("dy", "0.35em")
    .attr("text-anchor", "middle")
    .attr("font-size", 10.5).attr("font-weight", "bold")
    .text(a));

  // radial tick labels along the 80 degree spoke
  radialTicks.filter(v => v > rMin).forEach(v => g.append("text")
    .attr("x", rScale(v) * Math.cos(toRad(80)))
    .attr("y", -rScale(v) * Math.sin(toRad(80)))
    .attr("dy", "0.35em")
    .attr("text-anchor", "middle")
    .attr("font-size", 10.5).attr("font-weight", "bold")
    .text(v));

  // gain traces
  const line = d3.lineRadial()
    .angle(d => toRad(90 - d[0]))
    .radius(d => rScale(d[1]))
    .curve(d3.curveLinearClosed);
  panelData[row][col].forEach((series, k) => g.append("path")
    .attr("d", line(series))
    .attr("fill", "none")
    .attr("stroke", colors[k])
    .attr("stroke-width", 1.3)
    .attr("stroke-linejoin", "round"));

  // title
  const t = cutTitle(col, freqMHz[row]);
  const title = g.append("text")
    .attr("x", 0).attr("y", -159.5)
    .attr("text-anchor", "middle")
    .attr("font-size", 8.7).attr("font-weight", "bold");
  title.append("tspan").text(t.cut);
  title.append("tspan").attr("font-style", "italic").attr("font-weight", "normal").text(t.sym);
  title.append("tspan").text(t.val);
  title.append("tspan").attr("font-size", 5.5).attr("dy", -3.5).text("\u00B0");
  title.append("tspan").attr("dy", 3.5).text(`, Frequency = ${t.freq} MHz`);

  // legend
  const lg = g.append("g").attr("transform", `translate(${R - 31},${-R})`);
  lg.append("rect").attr("width", 43).attr("height", 47)
    .attr("fill", "#fff").attr("stroke", "#cfcfcf").attr("stroke-width", 0.8);
  seriesNames.forEach((name, k) => {
    const y = 10 + k * 14;
    lg.append("line").attr("x1", 2).attr("x2", 13).attr("y1", y).attr("y2", y)
      .attr("stroke", colors[k]).attr("stroke-width", 1.3);
    const txt = lg.append("text").attr("x", 14.5).attr("y", y + 3.5)
      .attr("font-size", 10).attr("font-weight", "bold");
    txt.append("tspan").text(name);
    txt.append("tspan").attr("font-size", 6.5).attr("dy", 2.5).attr("font-weight", "normal").text(seriesSubs[k]);
  });
}

for (let row = 0; row < 4; row++) {
  for (let col = 0; col < 3; col++) drawPanel(row, col);
}
</script>
</body>
</html>
